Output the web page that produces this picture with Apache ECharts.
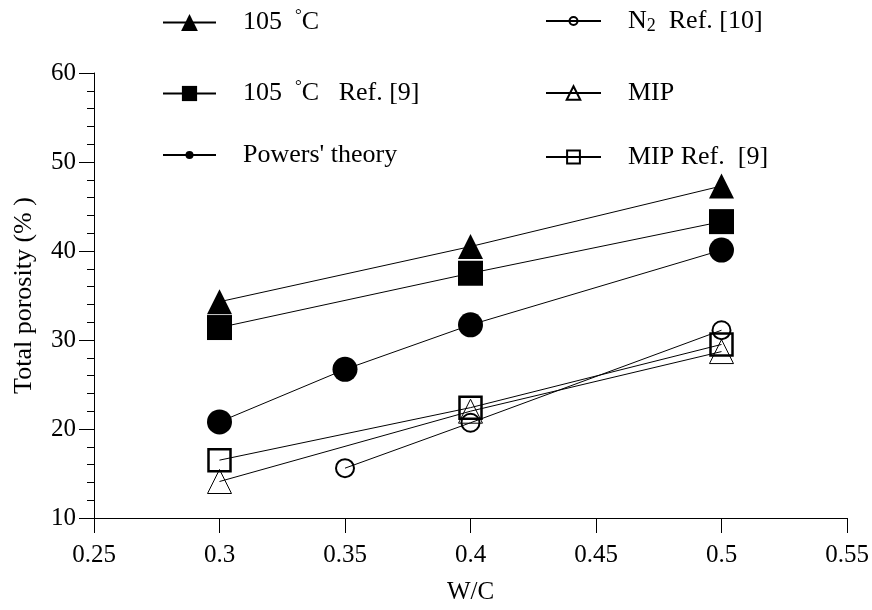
<!DOCTYPE html>
<html>
<head>
<meta charset="utf-8">
<script src="https://cdn.jsdelivr.net/npm/echarts@6/dist/echarts.min.js"></script>
<style>html,body{margin:0;padding:0;background:#fff}#c{width:872px;height:610px}</style>
</head>
<body>
<div id="c"></div>
<script>
// ---- data ----
var xTicks = [0.25, 0.3, 0.35, 0.4, 0.45, 0.5, 0.55];
var yTicks = [10, 20, 30, 40, 50, 60];
var wc3 = [0.3, 0.4, 0.5];
var oven105 = [34.3, 40.5, 47.3];
var oven105Ref9 = [31.4, 37.5, 43.3];
var powersWC = [0.3, 0.35, 0.4, 0.5];
var powersTheory = [20.8, 26.7, 31.7, 40.1];
var n2WC = [0.35, 0.4, 0.5];
var n2Ref10 = [15.6, 20.7, 31.1];
var mip = [14.1, 22.0, 28.7];
var mipRef9 = [16.5, 22.4, 29.5];
var names = ['105 °C', '105 °C Ref. [9]', "Powers' theory", 'N2 Ref. [10]', 'MIP', 'MIP Ref. [9]'];

function pairs(xs, ys) { return xs.map(function (x, i) { return [x, ys[i]]; }); }

var FONT = 'Liberation Serif';
var rich = {
  sup: { fontFamily: FONT, fontSize: 17, color: '#000', padding: [0, 0, 14, 0] },
  sub: { fontFamily: FONT, fontSize: 18, color: '#000', padding: [10, 0, 0, 0] },
  n: { fontFamily: FONT, fontSize: 26, color: '#000' }
};
var labelText = {};
labelText[names[0]] = '{n|105  }{sup|°}{n|C}';
labelText[names[1]] = '{n|105  }{sup|°}{n|C   Ref. [9]}';
labelText[names[2]] = "{n|Powers' theory}";
labelText[names[3]] = '{n|N}{sub|2}{n|  Ref. [10]}';
labelText[names[4]] = '{n|MIP}';
labelText[names[5]] = '{n|MIP Ref.  [9]}';

function mkLegend(name, left, top, w, h) {
  return {
    data: [name], left: left, top: top, padding: 0, itemWidth: w, itemHeight: h,
    selectedMode: false,
    formatter: function (n) { return labelText[n]; },
    textStyle: { fontFamily: FONT, fontSize: 26, color: '#000', padding: [0, 0, 0, 22], rich: rich }
  };
}

var lineStyle = { color: '#000', width: 1 };
function filled(name, xs, ys, sym, size) {
  return { name: name, type: 'line', data: pairs(xs, ys), symbol: sym, symbolSize: size,
    lineStyle: lineStyle, itemStyle: { color: '#000' }, z: 3, animation: false };
}
function open(name, xs, ys, sym, size, bw) {
  return { name: name, type: 'line', data: pairs(xs, ys), symbol: sym, symbolSize: size,
    lineStyle: lineStyle, itemStyle: { color: 'rgba(255,255,255,0)', borderColor: '#000', borderWidth: bw },
    z: 3, animation: false };
}

var chart = echarts.init(document.getElementById('c'), null, { renderer: 'canvas' });
chart.setOption({
  backgroundColor: '#fff',
  animation: false,
  textStyle: { fontFamily: FONT },
  grid: { left: 94, right: 25, top: 73, bottom: 86, containLabel: false },
  legend: [
    mkLegend(names[0], 162, 7, 53, 21),
    mkLegend(names[1], 162, 78, 53, 19),
    mkLegend(names[2], 162, 142, 53, 10),
    mkLegend(names[3], 545, 8, 55, 10),
    mkLegend(names[4], 545, 80, 55, 17),
    mkLegend(names[5], 545, 144, 55, 16)
  ],
  xAxis: {
    type: 'value', min: xTicks[0], max: xTicks[xTicks.length - 1], interval: 0.05,
    name: 'W/C', nameLocation: 'middle', nameGap: 62,
    nameTextStyle: { fontFamily: FONT, fontSize: 25, color: '#000' },
    axisLine: { show: true, onZero: false, lineStyle: { color: '#000', width: 1 } },
    axisTick: { show: true, length: 15, lineStyle: { color: '#000' } },
    axisLabel: { fontFamily: FONT, fontSize: 25, color: '#000', margin: 25,
      formatter: function (v) { return String(+v.toFixed(2)); } },
    splitLine: { show: false }
  },
  yAxis: {
    type: 'value', min: yTicks[0], max: yTicks[yTicks.length - 1], interval: 10,
    name: 'Total porosity (% )', nameLocation: 'middle', nameGap: 57, nameRotate: 90,
    nameTextStyle: { fontFamily: FONT, fontSize: 26, color: '#000' },
    axisLine: { show: true, lineStyle: { color: '#000', width: 1 } },
    axisTick: { show: true, length: 15, lineStyle: { color: '#000' } },
    minorTick: { show: true, splitNumber: 5, length: 7, lineStyle: { color: '#000' } },
    axisLabel: { fontFamily: FONT, fontSize: 25, color: '#000', margin: 18 },
    splitLine: { show: false }
  },
  series: [
    filled(names[0], wc3, oven105, 'triangle', 25),
    filled(names[1], wc3, oven105Ref9, 'rect', 25),
    filled(names[2], powersWC, powersTheory, 'circle', 25),
    open(names[3], n2WC, n2Ref10, 'circle', 18, 2),
    open(names[4], wc3, mip, 'triangle', 24, 1),
    open(names[5], wc3, mipRef9, 'rect', 22, 2.5)
  ]
});
</script>
</body>
</html>
